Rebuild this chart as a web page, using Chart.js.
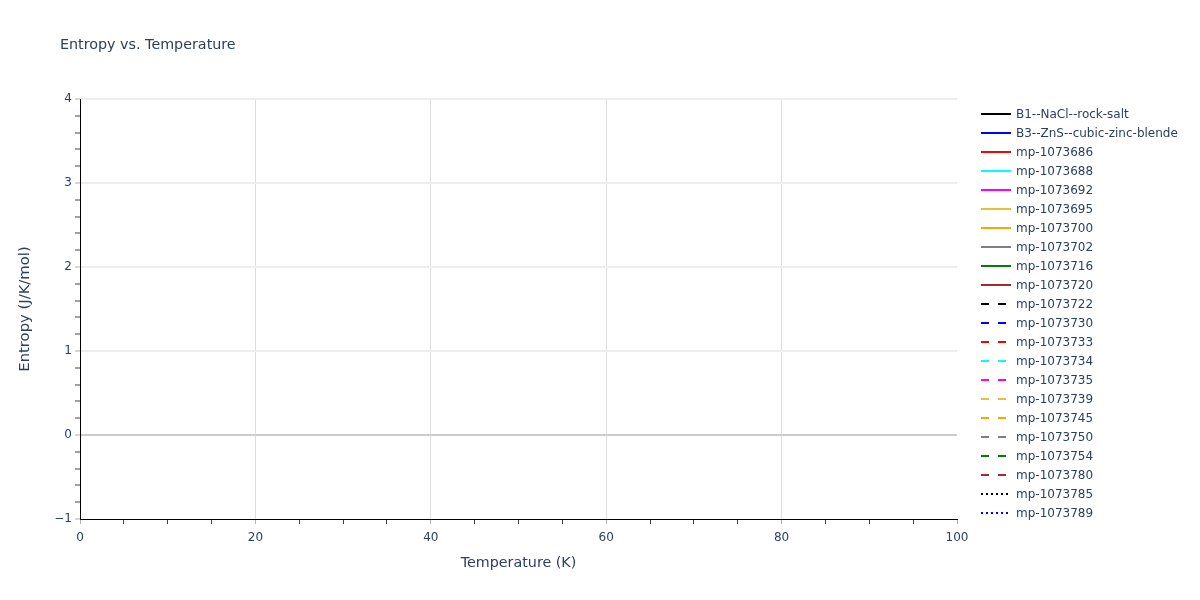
<!DOCTYPE html>
<html>
<head>
<meta charset="utf-8">
<script src="https://cdn.jsdelivr.net/npm/chart.js@4.4.1/dist/chart.umd.min.js"></script>
<style>
  html, body { margin: 0; padding: 0; background: #fff; }
  #wrap { width: 1200px; height: 600px; }
</style>
</head>
<body>
<div id="wrap"><canvas id="entropyChart" width="1200" height="600"></canvas></div>
<script>
// series names as shown in the legend
const seriesNames = [
  "B1--NaCl--rock-salt", "B3--ZnS--cubic-zinc-blende",
  "mp-1073686", "mp-1073688", "mp-1073692", "mp-1073695", "mp-1073700",
  "mp-1073702", "mp-1073716", "mp-1073720", "mp-1073722", "mp-1073730",
  "mp-1073733", "mp-1073734", "mp-1073735", "mp-1073739", "mp-1073745",
  "mp-1073750", "mp-1073754", "mp-1073780", "mp-1073785", "mp-1073789"
];
const seriesColors = [
  "#000000", "#0000ff", "#ff0000", "#00ffff", "#ff00ff", "#ebc132", "#ffa500",
  "#808080", "#008000", "#a52a2a", "#000000", "#0000ff", "#ff0000", "#00ffff",
  "#ff00ff", "#ebc132", "#ffa500", "#808080", "#008000", "#a52a2a", "#000000", "#0000ff"
];
// solid for the first ten, dashed for the next ten, dotted for the last two
const seriesDash = [
  "solid", "solid", "solid", "solid", "solid", "solid", "solid", "solid", "solid", "solid",
  "dash", "dash", "dash", "dash", "dash", "dash", "dash", "dash", "dash", "dash",
  "dot", "dot"
];
// no curve falls inside the plotted window, so every series is empty here
const temperatures = [];
const entropyValues = seriesNames.map(() => []);

const xTicks = [0, 20, 40, 60, 80, 100];
const yTicks = [-1, 0, 1, 2, 3, 4];

const dashPatterns = { solid: [], dash: [8, 9], dot: [2, 3] };
const fontFamily = '"DejaVu Sans", Verdana, sans-serif';
const textColor = "#2a3f5f";

const datasets = seriesNames.map((name, i) => ({
  label: name,
  data: entropyValues[i].map((v, j) => ({ x: temperatures[j], y: v })),
  borderColor: seriesColors[i],
  backgroundColor: seriesColors[i],
  borderDash: dashPatterns[seriesDash[i]],
  borderWidth: 2,
  pointRadius: 0,
  fill: false
}));

// plotly-like title and legend drawn next to the plot
const sideLegend = {
  id: "sideLegend",
  afterDraw(chart) {
    const ctx = chart.ctx;
    ctx.save();
    ctx.fillStyle = textColor;
    ctx.font = "14.3px " + fontFamily;
    ctx.textBaseline = "middle";
    ctx.textAlign = "left";
    ctx.fillText("Entropy vs. Temperature", 60, 45);

    ctx.font = "12px " + fontFamily;
    chart.data.datasets.forEach((ds, i) => {
      const y = 114 + i * 19;
      ctx.beginPath();
      ctx.setLineDash(ds.borderDash);
      ctx.strokeStyle = ds.borderColor;
      ctx.lineWidth = 2;
      ctx.moveTo(981, y);
      ctx.lineTo(1011, y);
      ctx.stroke();
      ctx.setLineDash([]);
      ctx.fillStyle = textColor;
      ctx.fillText(ds.label, 1016, y + 0.5);
    });
    ctx.restore();
  }
};

const isMajor = (v, list) => list.some(t => Math.abs(t - v) < 1e-6);

new Chart(document.getElementById("entropyChart"), {
  type: "line",
  data: { datasets: datasets },
  options: {
    responsive: false,
    animation: false,
    layout: { padding: { top: 99, right: 243, left: 0, bottom: 0 } },
    plugins: {
      legend: { display: false },
      title: { display: false },
      tooltip: { enabled: false }
    },
    scales: {
      x: {
        type: "linear",
        min: 0,
        max: 100,
        afterFit: s => { s.height = 81; },
        afterBuildTicks: s => {
          const t = [];
          for (let v = 0; v <= 100; v += 5) t.push({ value: v });
          s.ticks = t;
        },
        ticks: {
          autoSkip: false,
          maxRotation: 0,
          padding: 7,
          color: textColor,
          font: { family: fontFamily, size: 12 },
          callback: v => (isMajor(v, xTicks) ? String(v) : "")
        },
        grid: {
          color: c => {
            const v = c.tick ? c.tick.value : null;
            return v !== null && isMajor(v, xTicks) && v > 0 && v < 100 ? "#dddddd" : "rgba(0,0,0,0)";
          },
          lineWidth: 1,
          tickLength: 5,
          tickColor: c => (c.tick && isMajor(c.tick.value, xTicks) ? "#b0b0b0" : "#444444"),
          tickWidth: 1
        },
        border: { display: true, color: "#000000", width: 1 },
        title: {
          display: true,
          text: "Temperature (K)",
          color: textColor,
          font: { family: fontFamily, size: 14.3 },
          padding: { top: 10, bottom: 28 }
        }
      },
      y: {
        type: "linear",
        min: -1,
        max: 4,
        afterFit: s => { s.width = 80; },
        afterBuildTicks: s => {
          const t = [];
          for (let k = -5; k <= 20; k++) t.push({ value: k / 5 });
          s.ticks = t;
        },
        ticks: {
          autoSkip: false,
          padding: 3,
          color: textColor,
          font: { family: fontFamily, size: 12 },
          callback: v => {
            if (!isMajor(v, yTicks)) return "";
            const r = Math.round(v);
            return r < 0 ? "\u2212" + Math.abs(r) : String(r);
          }
        },
        grid: {
          color: c => {
            const v = c.tick ? c.tick.value : null;
            if (v === null || !isMajor(v, yTicks) || v <= -1) return "rgba(0,0,0,0)";
            return Math.abs(v) < 1e-6 ? "#cccccc" : "#eeeeee";
          },
          lineWidth: 2,
          tickLength: 5,
          tickColor: c => (c.tick && isMajor(c.tick.value, yTicks) ? "#b0b0b0" : "#444444"),
          tickWidth: 1
        },
        border: { display: true, color: "#000000", width: 1 },
        title: {
          display: true,
          text: "Entropy (J/K/mol)",
          color: textColor,
          font: { family: fontFamily, size: 14.8 },
          padding: { top: 16, bottom: 0 }
        }
      }
    }
  },
  plugins: [sideLegend]
});
</script>
</body>
</html>
